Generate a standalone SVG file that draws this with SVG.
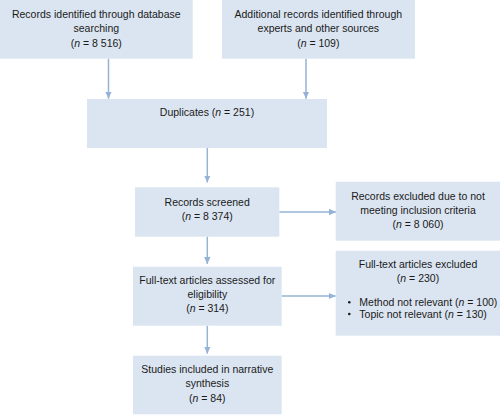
<svg xmlns="http://www.w3.org/2000/svg" width="500" height="415" viewBox="0 0 500 415">
<defs>
<style>
.box{fill:#dbe5f1;}
.t{font-family:"Liberation Sans",Arial,sans-serif;font-size:10.5px;fill:#1a1a1a;text-anchor:middle;}
.l{font-family:"Liberation Sans",Arial,sans-serif;font-size:10.5px;fill:#1a1a1a;}
.c{stroke:#95b3d7;stroke-width:1.5;fill:none;marker-end:url(#ah);}
</style>
<marker id="ah" markerUnits="userSpaceOnUse" markerWidth="8" markerHeight="8" viewBox="0 0 8 8" refX="7" refY="4" orient="auto">
<path d="M0,0.8 L7,4 L0,7.2 Z" fill="#95b3d7"/>
</marker>
</defs>
<rect width="500" height="415" fill="#ffffff"/>
<g id="connectors">
<path class="c" d="M108.5,58.7 V98.7"/>
<path class="c" d="M306,58.7 V98.7"/>
<path class="c" d="M207.3,148 V182.5"/>
<path class="c" d="M279.3,212 H336"/>
<path class="c" d="M207.3,236.7 V264"/>
<path class="c" d="M281.7,296 H335.7"/>
<path class="c" d="M207.3,325.7 V353.7"/>
</g>
<g id="db">
<rect class="box" x="0" y="0" width="192.7" height="58.7"/>
<text class="t" x="96.3" y="18">Records identified through database</text>
<text class="t" x="96.3" y="32.3">searching</text>
<text class="t" x="96.3" y="46.5">(<tspan font-style="italic">n</tspan> = 8 516)</text>
</g>
<g id="other">
<rect class="box" x="222" y="0" width="193" height="58.7"/>
<text class="t" x="318.3" y="18">Additional records identified through</text>
<text class="t" x="318.3" y="32.3">experts and other sources</text>
<text class="t" x="318.3" y="46.5">(<tspan font-style="italic">n</tspan> = 109)</text>
</g>
<g id="dup">
<rect class="box" x="87" y="99" width="240" height="49"/>
<text class="t" x="207" y="116">Duplicates (<tspan font-style="italic">n</tspan> = 251)</text>
</g>
<g id="screened">
<rect class="box" x="135" y="187.3" width="144.3" height="49.4"/>
<text class="t" x="207.2" y="205.5">Records screened</text>
<text class="t" x="207.2" y="219.7">(<tspan font-style="italic">n</tspan> = 8 374)</text>
</g>
<g id="excl1">
<rect class="box" x="335.7" y="181.7" width="164.3" height="59"/>
<text class="t" x="418" y="199.5">Records excluded due to not</text>
<text class="t" x="418" y="213.8">meeting inclusion criteria</text>
<text class="t" x="418" y="228.2">(<tspan font-style="italic">n</tspan> = 8 060)</text>
</g>
<g id="fulltext">
<rect class="box" x="133" y="266.7" width="148.7" height="59"/>
<text class="t" x="207.3" y="283.7">Full-text articles assessed for</text>
<text class="t" x="207.3" y="298">eligibility</text>
<text class="t" x="207.3" y="312.4">(<tspan font-style="italic">n</tspan> = 314)</text>
</g>
<g id="excl2">
<rect class="box" x="335.7" y="250.7" width="164.3" height="85"/>
<text class="t" x="418" y="268">Full-text articles excluded</text>
<text class="t" x="418" y="281.5">(<tspan font-style="italic">n</tspan> = 230)</text>
<circle cx="349.3" cy="302.3" r="1.3" fill="#1a1a1a"/>
<circle cx="349.3" cy="314" r="1.3" fill="#1a1a1a"/>
<text class="l" x="359.3" y="306">Method not relevant (<tspan font-style="italic">n</tspan> = 100)</text>
<text class="l" x="359.3" y="317.7">Topic not relevant (<tspan font-style="italic">n</tspan> = 130)</text>
</g>
<g id="studies">
<rect class="box" x="133" y="355.7" width="148.7" height="58.6"/>
<text class="t" x="207.3" y="373">Studies included in narrative</text>
<text class="t" x="207.3" y="387.3">synthesis</text>
<text class="t" x="207.3" y="401.6">(<tspan font-style="italic">n</tspan> = 84)</text>
</g>
</svg>
